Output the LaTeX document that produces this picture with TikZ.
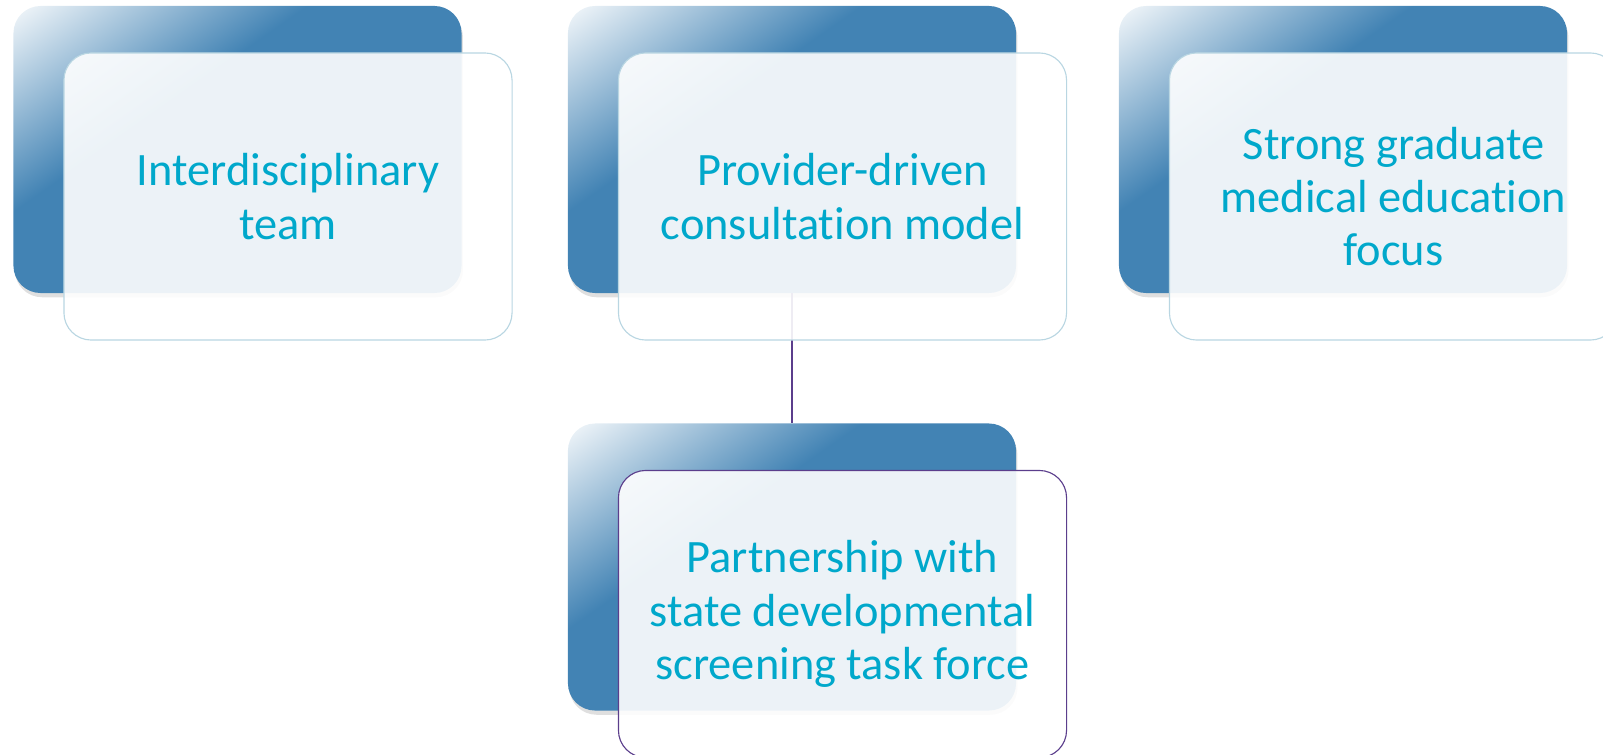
\documentclass[tikz,border=0pt]{standalone}
\usepackage{fontspec}
\setmainfont{Carlito}[Ligatures=CommonOff]
\usetikzlibrary{shadows}
\definecolor{cardblue}{HTML}{4283B4}
\definecolor{cardline}{HTML}{B9D6E2}
\definecolor{linkpurple}{HTML}{5B3E8C}
\definecolor{cardtext}{HTML}{00A8CB}
\pgfdeclarehorizontalshading{cardshade}{100bp}{color(0bp)=(white); color(15bp)=(cardblue!5); color(39bp)=(cardblue); color(100bp)=(cardblue)}

\begin{document}
\begin{tikzpicture}[x=0.025cm,y=-0.025cm,
	backcard/.style={rounded corners=0.68cm, minimum width=11.2cm, minimum height=7.175cm, shading=cardshade, shading angle=-55, drop shadow={opacity=0.25,shadow xshift=1pt,shadow yshift=-3pt}},
	frontcard/.style={draw=cardline, line width=0.8pt, fill=white, fill opacity=0.9, text opacity=1, rounded corners=0.68cm, minimum width=11.2cm, minimum height=7.175cm, text=cardtext, align=center, font=\fontsize{33}{38}\selectfont}]
			\clip (0,0) rectangle (1603,755);
			\foreach \name/\x in {inter/237.5,provider/792,strong/1343}
			{
				\node[backcard] (\name-back) at (\x,149.5) {};
			}
			\node[backcard] (partner-back) at (792,567) {};
			\draw[linkpurple, line width=1pt] (provider-back.south) -- (partner-back.north);

			\foreach \name/\x/\txt in {inter/237.5/{Interdisciplinary\\team},provider/792/{Provider-driven\\consultation model},strong/1343/{Strong graduate\\medical education\\focus}}
			{
				\def\dx{50.5}
				\node[frontcard] (\name-front) at ({\x+\dx},196.5) {\txt};
			}
			\node[frontcard, draw=linkpurple] (partner-front) at (842.5,614) {Partnership with\\state developmental\\screening task force};
		\end{tikzpicture}
\end{document}
